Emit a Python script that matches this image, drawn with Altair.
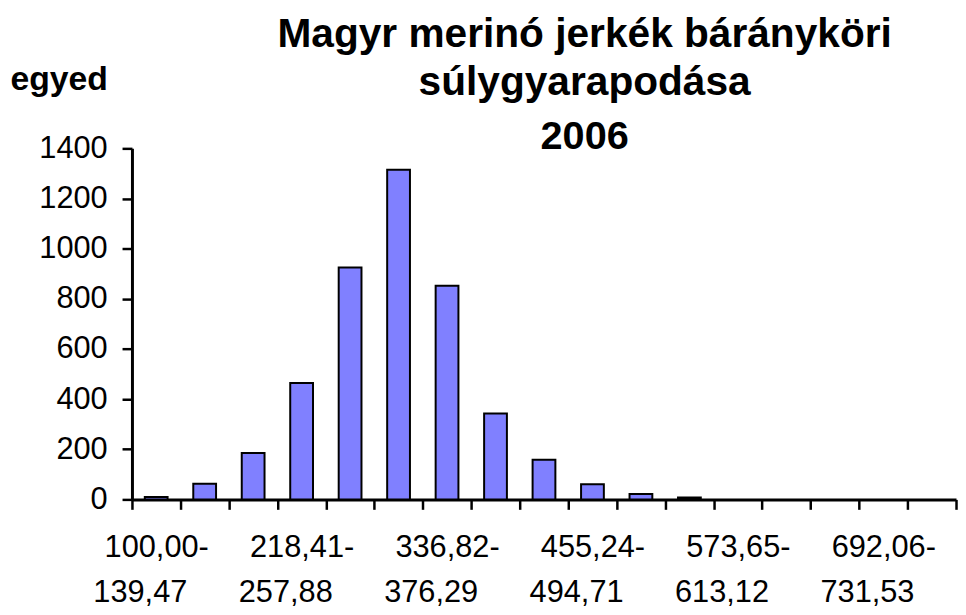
import json
import altair as alt
import pandas as pd

# bin labels (weight gain classes, g/day)
bin_labels = [
    "100,00-139,47", "139,47-178,94", "178,94-218,41", "218,41-257,88",
    "257,88-297,35", "297,35-336,82", "336,82-376,29", "376,29-415,77",
    "415,77-455,24", "455,24-494,71", "494,71-534,18", "534,18-573,65",
    "573,65-613,12", "613,12-652,59", "652,59-692,06", "692,06-731,53",
    "731,53-771,00",
]
counts = [10, 62, 185, 464, 925, 1315, 852, 343, 158, 60, 22, 8, 0, 0, 0, 0, 0]
shown_labels = bin_labels[::3]
y_ticks = [0, 200, 400, 600, 800, 1000, 1200, 1400]

title_lines = ["Magyr merinó jerkék bárányköri", "súlygyarapodása"]
subtitle_text = "2006"
y_title = "egyed"

df = pd.DataFrame({"bin": bin_labels, "count": counts})

FONT = "Liberation Sans"
W, H = 831, 354
SHOWN = json.dumps(shown_labels)
expr_line1 = ("indexof(" + SHOWN + ", datum.value) >= 0 ? "
              "slice(datum.value, 0, indexof(datum.value, '-') + 1) : ''")
expr_line2 = ("indexof(" + SHOWN + ", datum.value) >= 0 ? "
              "slice(datum.value, indexof(datum.value, '-') + 1) : ''")

y_enc = alt.Y("count:Q",
              scale=alt.Scale(domain=[0, 1400], nice=False),
              axis=alt.Axis(values=y_ticks, format="d", grid=False, tickSize=10,
                            tickWidth=2.5,
                            domainWidth=3, domainColor="black", tickColor="black",
                            labelColor="black", labelFont=FONT, labelFontSize=31,
                            labelPadding=15,
                            title=y_title, titleAngle=0, titleX=-123, titleY=-59,
                            titleAlign="left", titleBaseline="alphabetic",
                            titleFont=FONT, titleFontSize=34, titleFontWeight="bold",
                            titleColor="black"))

base = alt.Chart(df)

bars = base.mark_bar(
    color="#8080FF", stroke="black", strokeWidth=2,
    width=alt.RelativeBandSize(0.47),
).encode(
    x=alt.X("bin:N", sort=bin_labels,
            scale=alt.Scale(paddingInner=0, paddingOuter=0),
            axis=alt.Axis(title=None, orient="bottom", labelAngle=0,
                          labelExpr=expr_line1,
                          tickBand="extent", tickSize=10, tickWidth=2.5,
                          domainWidth=3, domainColor="black", tickColor="black",
                          labelColor="black", labelFont=FONT, labelFontSize=31,
                          labelPadding=24, labelBaseline="top")),
    y=y_enc,
    strokeOpacity=alt.condition(alt.datum["count"] > 0, alt.value(1), alt.value(0)),
)

# second line of each class label (set slightly left, as in the original)
second_line = base.mark_bar(opacity=0).encode(
    x=alt.X("bin:N", sort=bin_labels,
            scale=alt.Scale(paddingInner=0, paddingOuter=0, range=[-16, W - 16]),
            axis=alt.Axis(title=None, orient="bottom", labelAngle=0,
                          labelExpr=expr_line2, domain=False, ticks=False,
                          tickSize=0,
                          labelColor="black", labelFont=FONT,
                          labelFontSize=31, labelPadding=79, labelBaseline="top")),
    y=y_enc,
)

chart = alt.layer(bars, second_line).resolve_scale(x="independent").resolve_axis(
    x="independent"
).properties(
    width=W,
    height=H,
    title=alt.TitleParams(
        text=title_lines, subtitle=subtitle_text,
        font=FONT, fontSize=41, fontWeight="bold", color="black",
        lineHeight=48,
        subtitleFont=FONT, subtitleFontSize=40, subtitleFontWeight="bold",
        subtitleColor="black", subtitlePadding=14,
        anchor="middle", frame="group", dx=41, dy=100,
    ),
    autosize=alt.AutoSizeParams(type="none"),
    padding={"left": 125, "top": 139, "right": 2, "bottom": 110},
).configure_view(stroke=None)

chart.save("out.html", embed_options={"renderer": "svg", "actions": False})
